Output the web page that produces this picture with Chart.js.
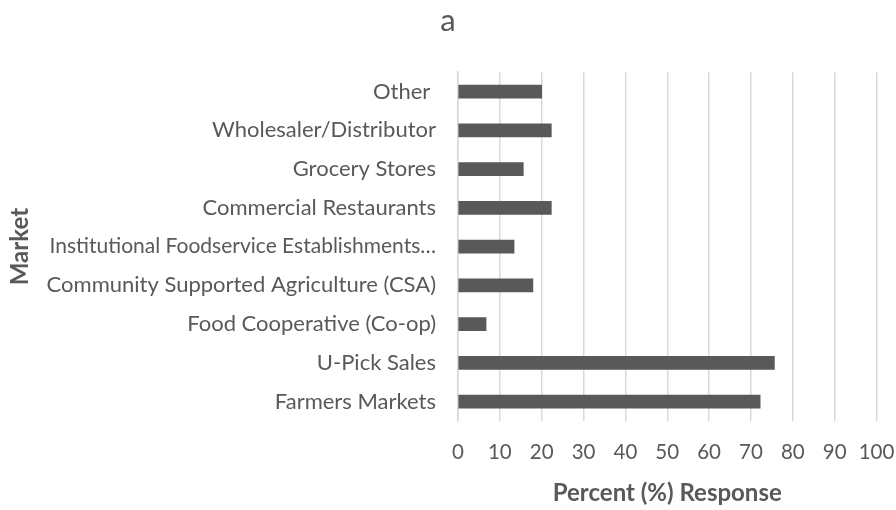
<!DOCTYPE html>
<html>
<head>
<meta charset="utf-8">
<script src="https://cdn.jsdelivr.net/npm/chart.js@4"></script>
<style>
  html, body { margin: 0; padding: 0; background: #fff; }
  #wrap { width: 896px; height: 510px; }
</style>
</head>
<body>
<div id="wrap"><canvas id="marketChart"></canvas></div>
<script>
const markets = [
    'Other ',
    'Wholesaler/Distributor',
    'Grocery Stores',
    'Commercial Restaurants',
    'Institutional Foodservice Establishments…',
    'Community Supported Agriculture (CSA)',
    'Food Cooperative (Co-op)',
    'U-Pick Sales',
    'Farmers Markets'
];
const percentResponse = [20.0, 22.3, 15.6, 22.3, 13.4, 17.9, 6.7, 75.6, 72.2];
const xTicks = [0, 10, 20, 30, 40, 50, 60, 70, 80, 90, 100];

const grey = '#595959';
const font = 'Lato, "Open Sans", sans-serif';

new Chart(document.getElementById('marketChart'), {
    type: 'bar',
    data: {
        labels: markets,
        datasets: [{
            data: percentResponse,
            backgroundColor: grey,
            borderWidth: 0,
            barThickness: 13
        }]
    },
    options: {
        indexAxis: 'y',
        responsive: true,
        maintainAspectRatio: false,
        animation: false,
        layout: { padding: 0 },
        plugins: {
            legend: { display: false },
            tooltip: { enabled: false },
            title: {
                display: true,
                text: 'a',
                color: grey,
                font: { family: font, size: 31, weight: 'normal' },
                padding: { top: 2, bottom: 33 }
            }
        },
        scales: {
            x: {
                min: 0,
                max: 100,
                afterBuildTicks: axis => { axis.ticks = xTicks.map(v => ({ value: v })); },
                grid: { color: '#d9d9d9', lineWidth: 1.5, drawTicks: false },
                border: { display: false },
                ticks: { color: grey, font: { family: font, size: 20.5 }, padding: 19, maxRotation: 0, minRotation: 0 },
                title: {
                    display: true,
                    text: 'Percent (%) Response',
                    color: grey,
                    font: { family: font, size: 24, weight: 'bold' },
                    padding: { top: 14, bottom: 2 }
                },
                afterFit: axis => {
                    axis.paddingRight = 19.5;
                    axis.paddingLeft = 0;
                    axis.height = 89;
                }
            },
            y: {
                grid: { display: false },
                border: { color: '#d9d9d9', width: 1.5 },
                ticks: {
                    color: grey,
                    font: ctx => ({ family: font, size: ctx.index === 4 ? 21 : 22 }),
                    padding: 14,
                    autoSkip: false
                },
                title: {
                    display: true,
                    text: 'Market',
                    color: grey,
                    font: { family: font, size: 24, weight: 'bold' },
                    padding: { top: 6, bottom: 0 }
                },
                afterFit: axis => { axis.width = 458; }
            }
        }
    }
});
</script>
</body>
</html>
